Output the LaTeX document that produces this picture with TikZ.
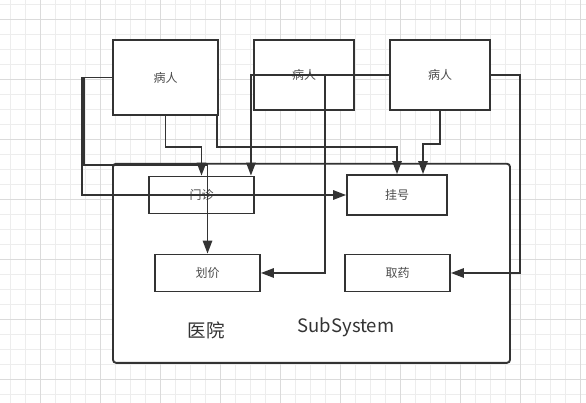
\documentclass[tikz,border=0pt]{standalone}
\usepackage{fontspec}
\setmainfont{Noto Sans CJK SC}
\usetikzlibrary{arrows.meta}
\definecolor{linegray}{HTML}{333333}
\begin{document}
\begin{tikzpicture}[x=1pt,y=-1pt,
  box/.style={draw=linegray,line width=1.9pt,fill=white,inner sep=0pt,
    font=\fontsize{12}{14}\selectfont,text=black!70},
  link/.style={draw=linegray,line width=1.5pt,-{Triangle[length=13pt,width=9.5pt]}},
  title/.style={font=\fontsize{18.5}{20}\selectfont,text=black!80},
  gridminor/.style={draw=black!7,line width=0.8pt},
  gridmajor/.style={draw=black!14,line width=0.8pt}]
  \useasboundingbox (0,0) rectangle (586,403);

  % background grid
  \foreach \i in {0,...,38} \draw[gridminor] ({10.7+15*\i},0) -- ({10.7+15*\i},403);
  \foreach \i in {0,...,26} \draw[gridminor] (0,{4.3+15*\i}) -- (586,{4.3+15*\i});
  \foreach \i in {0,...,9} \draw[gridmajor] ({40.7+60*\i},0) -- ({40.7+60*\i},403);
  \foreach \i in {0,...,6} \draw[gridmajor] (0,{19.3+60*\i}) -- (586,{19.3+60*\i});

  \node[box,rounded corners=3pt,minimum width=397pt,minimum height=199pt] (system) at (311.5,263.3) {};
  \node[title] (hospital) at (206,330) {医院};
  \node[title] (subsystem) at (346,327) {SubSystem};

  \node[box,minimum width=105pt,minimum height=75pt] (p1) at (165.5,77.5) {病人};
  \node[box,minimum width=100pt,minimum height=70pt] (p2) at (304,75) {病人};
  \node[box,minimum width=100pt,minimum height=70pt] (p3) at (440,75) {病人};

  \node[box,minimum width=105pt,minimum height=37pt] (clinic) at (201.5,195) {门诊};
  \node[box,minimum width=100pt,minimum height=40pt] (register) at (397,195) {挂号};
  \node[box,minimum width=105pt,minimum height=37pt] (pricing) at (207.5,273) {划价};
  \node[box,minimum width=105pt,minimum height=37pt] (pharmacy) at (397.5,273) {取药};

  \draw[link] (p1.west) -| (84,165) -| (pricing.north);
  \draw[link] (p1.west) -| (82,195) -- (register.west);
  \draw[link] (p1.south) -- ++(0,31) -| (clinic.north);
  \draw[link] ([xshift=-2pt]p1.south east) -- ++(0,31) -| (register.north);

  \draw[link] (p3.west) -| ([xshift=-4pt]clinic.north east);
  \draw[link] (p3.west) -| (325,273) -- (pricing.east);
  \draw[link] (p3.south) -- ++(0,33) -| ([xshift=26pt]register.north);
  \draw[link] (p3.east) -| (520,273) -- (pharmacy.east);
\end{tikzpicture}
\end{document}
